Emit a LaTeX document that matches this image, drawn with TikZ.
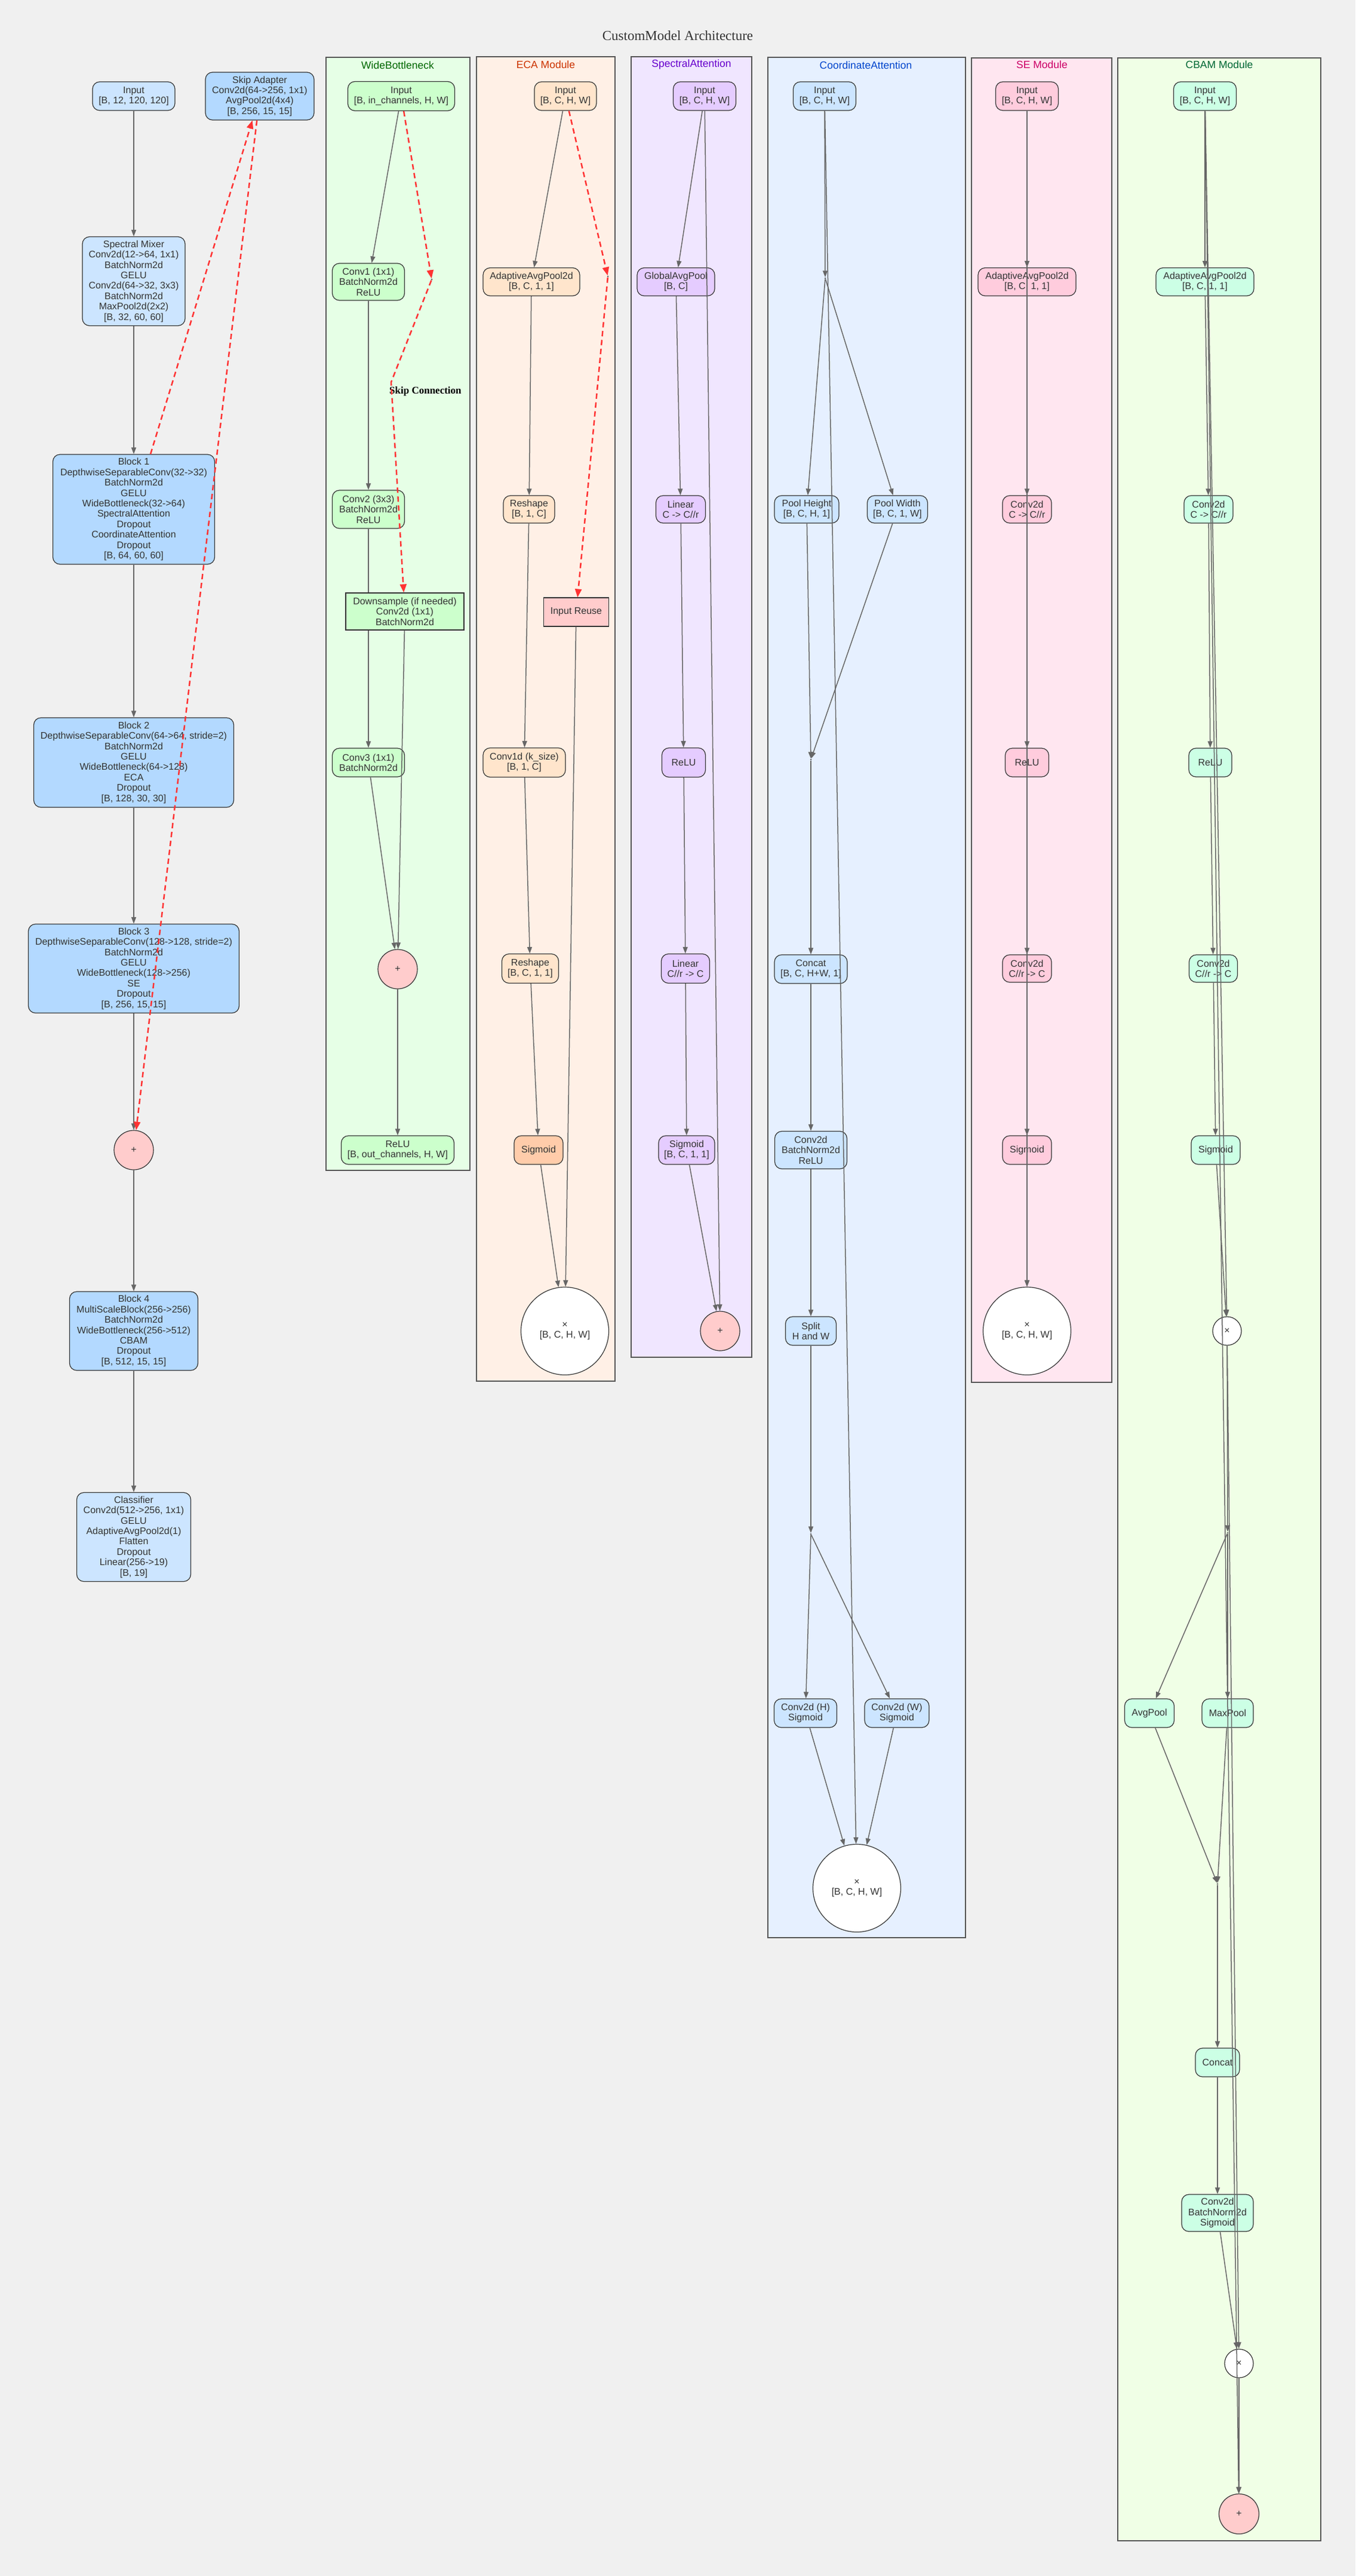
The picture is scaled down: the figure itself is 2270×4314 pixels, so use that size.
\documentclass[tikz,border=0pt]{standalone}
\usepackage{fontspec}
\setmainfont{Liberation Sans}
\newfontfamily\serifface{Liberation Serif}
\usepackage{tikz}
\usetikzlibrary{arrows.meta}

\definecolor{pagebg}{HTML}{F0F0F0}
\definecolor{ink}{HTML}{333333}
\definecolor{edgegray}{HTML}{666666}
\definecolor{frame}{HTML}{555555}
\definecolor{skipred}{HTML}{FF3333}
\definecolor{mainlight}{HTML}{CCE5FF}
\definecolor{maindark}{HTML}{B3D9FF}
\definecolor{addpink}{HTML}{FFCCCC}
\definecolor{wbbg}{HTML}{E6FFE6}
\definecolor{wbfill}{HTML}{CCFFCC}
\definecolor{wbtext}{HTML}{006600}
\definecolor{ecabg}{HTML}{FFF0E6}
\definecolor{ecafill}{HTML}{FFE5CC}
\definecolor{ecapeach}{HTML}{FFCCAA}
\definecolor{ecatext}{HTML}{CC3300}
\definecolor{sabg}{HTML}{F0E6FF}
\definecolor{safill}{HTML}{E5CCFF}
\definecolor{satext}{HTML}{6600CC}
\definecolor{cabg}{HTML}{E6F0FF}
\definecolor{cafill}{HTML}{CCE5FF}
\definecolor{catext}{HTML}{0044CC}
\definecolor{sebg}{HTML}{FFE6F0}
\definecolor{sefill}{HTML}{FFCCDD}
\definecolor{setext}{HTML}{CC0066}
\definecolor{cbbg}{HTML}{F0FFE6}
\definecolor{cbfill}{HTML}{CCFFE5}
\definecolor{cbtext}{HTML}{006633}

\newcommand{\boxfont}{\fontsize{16pt}{17.4pt}\selectfont}

\pgfdeclarelayer{back}
\pgfdeclarelayer{under}
\pgfsetlayers{back,under,main}

\tikzset{
  >={Triangle[length=11pt,width=8pt]},
  sz/.style 2 args={minimum width=#1, minimum height=#2},
  box/.style={draw=ink, line width=1.2pt, rounded corners=12pt, align=center, font=\boxfont, text=ink, inner sep=1pt},
  mainlt/.style={box, fill=mainlight},
  maindk/.style={box, fill=maindark},
  wbbox/.style={box, fill=wbfill},
  ecabox/.style={box, fill=ecafill},
  sabox/.style={box, fill=safill},
  cabox/.style={box, fill=cafill},
  sebox/.style={box, fill=sefill},
  cbbox/.style={box, fill=cbfill},
  opnode/.style={circle, draw=ink, line width=1.2pt, fill=white, align=center, font=\boxfont, text=ink, inner sep=0pt},
  addnode/.style={opnode, fill=addpink},
  joint/.style={circle, fill=edgegray, inner sep=0pt, minimum size=3pt},
  flow/.style={draw=edgegray, line width=1.5pt, ->},
  skip/.style={draw=skipred, line width=2.5pt, dash pattern=on 9pt off 6pt, >={Triangle[length=14pt,width=11pt]}, ->},
  cluster/.style={draw=frame, line width=1.6pt},
  ctitle/.style={font=\fontsize{17.5pt}{19pt}\selectfont, inner sep=0pt}
}

\begin{document}
\begin{tikzpicture}[x=1pt, y=-1pt]
\useasboundingbox (0,0) rectangle (2270,4314);
\begin{pgfonlayer}{back}
\fill[pagebg] (0,0) rectangle (2270,4314);
\draw[cluster, fill=wbbg] (546,96) rectangle (787,1960);
\draw[cluster, fill=ecabg] (798,95) rectangle (1030,2313);
\draw[cluster, fill=sabg] (1057,95) rectangle (1259,2273);
\draw[cluster, fill=cabg] (1286,96) rectangle (1617,3245);
\draw[cluster, fill=sebg] (1627,97) rectangle (1862,2315);
\draw[cluster, fill=cbbg] (1872,97) rectangle (2212,4255);
\end{pgfonlayer}

\node[font=\serifface\fontsize{23pt}{26pt}\selectfont, text=ink] (title) at (1135,60) {CustomModel Architecture};

\node[mainlt, sz={138}{48}] (mainin) at (224,161) {Input\\{}[B, 12, 120, 120]};
\node[maindk, sz={182}{80}] (skipad) at (435,161) {Skip Adapter\\Conv2d(64->256, 1x1)\\AvgPool2d(4x4)\\{}[B, 256, 15, 15]};
\node[mainlt, sz={172}{149}] (mixer) at (224,471) {Spectral Mixer\\Conv2d(12->64, 1x1)\\BatchNorm2d\\GELU\\Conv2d(64->32, 3x3)\\BatchNorm2d\\MaxPool2d(2x2)\\{}[B, 32, 60, 60]};
\node[maindk, sz={271}{184}] (blockone) at (224,853) {Block 1\\DepthwiseSeparableConv(32->32)\\BatchNorm2d\\GELU\\WideBottleneck(32->64)\\SpectralAttention\\Dropout\\CoordinateAttention\\Dropout\\{}[B, 64, 60, 60]};
\node[maindk, sz={335}{150}] (blocktwo) at (224,1277) {Block 2\\DepthwiseSeparableConv(64->64, stride=2)\\BatchNorm2d\\GELU\\WideBottleneck(64->128)\\ECA\\Dropout\\{}[B, 128, 30, 30]};
\node[maindk, sz={353}{149}] (blockthree) at (224,1622) {Block 3\\DepthwiseSeparableConv(128->128, stride=2)\\BatchNorm2d\\GELU\\WideBottleneck(128->256)\\SE\\Dropout\\{}[B, 256, 15, 15]};
\node[addnode, minimum size=66] (mainadd) at (224,1926) {+};
\node[maindk, sz={215}{132}] (blockfour) at (224,2229) {Block 4\\MultiScaleBlock(256->256)\\BatchNorm2d\\WideBottleneck(256->512)\\CBAM\\Dropout\\{}[B, 512, 15, 15]};
\node[mainlt, sz={191}{149}] (classifier) at (224,2574) {Classifier\\Conv2d(512->256, 1x1)\\GELU\\AdaptiveAvgPool2d(1)\\Flatten\\Dropout\\Linear(256->19)\\{}[B, 19]};

\node[ctitle, text=wbtext] (wbtitle) at (666,109) {WideBottleneck};
\node[wbbox, sz={179}{49}] (wbin) at (672,161) {Input\\{}[B, in\_channels, H, W]};
\node[wbbox, sz={121}{62}] (wbconva) at (617,472) {Conv1 (1x1)\\BatchNorm2d\\ReLU};
\node[joint] (wbfork) at (723,468) {};
\node[wbbox, sz={121}{64}] (wbconvb) at (617,853) {Conv2 (3x3)\\BatchNorm2d\\ReLU};
\node[wbbox, sz={121}{48}] (wbconvc) at (617,1277) {Conv3 (1x1)\\BatchNorm2d};
\begin{pgfonlayer}{under}
\draw[flow] (wbconvb) -- (wbconvc);
\end{pgfonlayer}
\node[wbbox, rounded corners=0pt, sz={198}{62}] (wbdown) at (678,1024) {Downsample (if needed)\\Conv2d (1x1)\\BatchNorm2d};
\node[addnode, minimum size=66] (wbadd) at (666,1623) {+};
\node[wbbox, sz={189}{48}] (wbout) at (666,1926) {ReLU\\{}[B, out\_channels, H, W]};
\coordinate (wbbend) at (655,640);
\node[anchor = west, font=\serifface\bfseries\fontsize{17pt}{19pt}\selectfont, inner sep=0pt] (skiplabel) at (652,655) {Skip Connection};

\node[ctitle, text=ecatext] (ecatitle) at (914,108) {ECA Module};
\node[ecabox, sz={104}{48}] (ecain) at (947,161) {Input\\{}[B, C, H, W]};
\node[ecabox, sz={162}{47}] (ecapool) at (890,472) {AdaptiveAvgPool2d\\{}[B, C, 1, 1]};
\node[joint] (ecafork) at (1018,463) {};
\node[ecabox, sz={86}{46}] (ecashapea) at (886,853) {Reshape\\{}[B, 1, C]};
\node[ecabox, fill=addpink, rounded corners=0pt, sz={109}{48}] (ecareuse) at (965,1025) {Input Reuse};
\node[ecabox, sz={138}{49}] (ecaconv) at (878,1277) {Conv1d (k\_size)\\{}[B, 1, C]};
\node[ecabox, sz={95}{49}] (ecashapeb) at (888,1622) {Reshape\\{}[B, C, 1, 1]};
\node[ecabox, fill=ecapeach, sz={82}{48}] (ecasig) at (902,1926) {Sigmoid};
\node[opnode, minimum size=147] (ecamul) at (946,2229) {×\\{}[B, C, H, W]};

\node[ctitle, text=satext] (satitle) at (1158,108) {SpectralAttention};
\node[sabox, sz={105}{48}] (sain) at (1180,161) {Input\\{}[B, C, H, W]};
\node[sabox, sz={130}{47}] (sapool) at (1132,472) {GlobalAvgPool\\{}[B, C]};
\node[sabox, sz={83}{46}] (salina) at (1140,853) {Linear\\C -> C//r};
\node[sabox, sz={73}{49}] (sarelu) at (1145,1277) {ReLU};
\node[sabox, sz={81}{49}] (salinb) at (1148,1622) {Linear\\C//r -> C};
\node[sabox, sz={94}{48}] (sasig) at (1150,1926) {Sigmoid\\{}[B, C, 1, 1]};
\node[addnode, minimum size=66] (saadd) at (1206,2229) {+};

\node[ctitle, text=catext] (catitle) at (1450,109) {CoordinateAttention};
\node[cabox, sz={105}{48}] (cain) at (1381,161) {Input\\{}[B, C, H, W]};
\node[joint] (caforka) at (1382,466) {};
\node[cabox, sz={108}{46}] (caheight) at (1351,853) {Pool Height\\{}[B, C, H, 1]};
\node[cabox, sz={101}{46}] (cawidth) at (1503,853) {Pool Width\\{}[B, C, 1, W]};
\node[joint] (cajoin) at (1358,1272) {};
\node[cabox, sz={122}{48}] (cacat) at (1358,1623) {Concat\\{}[B, C, H+W, 1]};
\node[cabox, sz={121}{63}] (caconv) at (1358,1926) {Conv2d\\BatchNorm2d\\ReLU};
\node[cabox, sz={85}{48}] (casplit) at (1358,2229) {Split\\H and W};
\node[joint] (caforkb) at (1358,2569) {};
\node[cabox, sz={105}{48}] (cah) at (1349,2869) {Conv2d (H)\\Sigmoid};
\node[cabox, sz={108}{48}] (caw) at (1502,2869) {Conv2d (W)\\Sigmoid};
\node[opnode, minimum size=147] (camul) at (1435,3162) {×\\{}[B, C, H, W]};

\node[ctitle, text=setext] (setitle) at (1745,108) {SE Module};
\node[sebox, sz={105}{48}] (sein) at (1720,161) {Input\\{}[B, C, H, W]};
\node[sebox, sz={164}{47}] (sepool) at (1720,472) {AdaptiveAvgPool2d\\{}[B, C, 1, 1]};
\node[sebox, sz={82}{46}] (seconva) at (1720,853) {Conv2d\\C -> C//r};
\node[sebox, sz={73}{48}] (serelu) at (1720,1277) {ReLU};
\node[sebox, sz={82}{46}] (seconvb) at (1720,1622) {Conv2d\\C//r -> C};
\node[sebox, sz={82}{48}] (sesig) at (1720,1926) {Sigmoid};
\node[opnode, minimum size=147] (semul) at (1720,2229) {×\\{}[B, C, H, W]};

\node[ctitle, text=cbtext] (cbtitle) at (2042,108) {CBAM Module};
\node[cbbox, sz={105}{48}] (cbin) at (2018,161) {Input\\{}[B, C, H, W]};
\node[cbbox, sz={164}{47}] (cbpool) at (2018,472) {AdaptiveAvgPool2d\\{}[B, C, 1, 1]};
\node[cbbox, sz={82}{46}] (cbconva) at (2024,853) {Conv2d\\C -> C//r};
\node[cbbox, sz={72}{48}] (cbrelu) at (2027,1277) {ReLU};
\node[cbbox, sz={81}{46}] (cbconvb) at (2032,1622) {Conv2d\\C//r -> C};
\node[cbbox, sz={82}{48}] (cbsig) at (2036,1926) {Sigmoid};
\node[opnode, minimum size=48] (cbmula) at (2055,2229) {×};
\node[joint] (cbfork) at (2056,2567) {};
\node[cbbox, sz={83}{48}] (cbavg) at (1925,2869) {AvgPool};
\node[cbbox, sz={86}{48}] (cbmax) at (2056,2869) {MaxPool};
\node[joint] (cbjoin) at (2039,3155) {};
\node[cbbox, sz={74}{48}] (cbcat) at (2039,3454) {Concat};
\node[cbbox, sz={120}{62}] (cbconvc) at (2039,3706) {Conv2d\\BatchNorm2d\\Sigmoid};
\node[opnode, minimum size=48] (cbmulb) at (2075,3958) {×};
\node[addnode, minimum size=67] (cbadd) at (2075,4210) {+};

\draw[flow] (mainin) -- (mixer);
\draw[flow] (mixer) -- (blockone);
\draw[flow] (blockone) -- (blocktwo);
\draw[flow] (blocktwo) -- (blockthree);
\draw[flow] (blockthree) -- (mainadd);
\draw[flow] (mainadd) -- (blockfour);
\draw[flow] (blockfour) -- (classifier);
\draw[skip] (blockone) -- (skipad);
\draw[skip] (skipad) -- (mainadd);

\draw[flow] (wbin) -- (wbconva);
\draw[flow] (wbconva) -- (wbconvb);
\draw[flow] (wbconvc) -- (wbadd);
\draw[flow] (wbdown) -- (wbadd);
\draw[flow] (wbadd) -- (wbout);
\draw[skip] (wbin) -- (wbfork);
\draw[skip] (wbfork) -- (wbbend) -- (wbdown);

\draw[flow] (ecain) -- (ecapool);
\draw[flow] (ecapool) -- (ecashapea);
\draw[flow] (ecashapea) -- (ecaconv);
\draw[flow] (ecaconv) -- (ecashapeb);
\draw[flow] (ecashapeb) -- (ecasig);
\draw[flow] (ecasig) -- (ecamul);
\draw[flow] (ecareuse) -- (ecamul);
\draw[skip] (ecain) -- (ecafork);
\draw[skip] (ecafork) -- (ecareuse);

\draw[flow] (sain) -- (sapool);
\draw[flow] (sapool) -- (salina);
\draw[flow] (salina) -- (sarelu);
\draw[flow] (sarelu) -- (salinb);
\draw[flow] (salinb) -- (sasig);
\draw[flow] (sasig) -- (saadd);
\draw[flow] (sain) -- (saadd);

\draw[flow] (cain) -- (caforka);
\draw[flow] (caforka) -- (caheight);
\draw[flow] (caforka) -- (cawidth);
\draw[flow] (caheight) -- (cajoin);
\draw[flow] (cawidth) -- (cajoin);
\draw[flow] (cajoin) -- (cacat);
\draw[flow] (cacat) -- (caconv);
\draw[flow] (caconv) -- (casplit);
\draw[flow] (casplit) -- (caforkb);
\draw[flow] (caforkb) -- (cah);
\draw[flow] (caforkb) -- (caw);
\draw[flow] (cah) -- (camul);
\draw[flow] (caw) -- (camul);
\draw[flow] (cain) -- (camul);

\draw[flow] (sein) -- (sepool);
\draw[flow] (sepool) -- (seconva);
\draw[flow] (seconva) -- (serelu);
\draw[flow] (serelu) -- (seconvb);
\draw[flow] (seconvb) -- (sesig);
\draw[flow] (sesig) -- (semul);
\draw[flow] (sein) -- (semul);

\draw[flow] (cbin) -- (cbpool);
\draw[flow] (cbin) -- (cbmula);
\draw[flow] (cbin) -- (cbadd);
\draw[flow] (cbpool) -- (cbconva);
\draw[flow] (cbconva) -- (cbrelu);
\draw[flow] (cbrelu) -- (cbconvb);
\draw[flow] (cbconvb) -- (cbsig);
\draw[flow] (cbsig) -- (cbmula);
\draw[flow] (cbmula) -- (cbfork);
\draw[flow] (cbmula) -- (cbmulb);
\draw[flow] (cbfork) -- (cbavg);
\draw[flow] (cbfork) -- (cbmax);
\draw[flow] (cbavg) -- (cbjoin);
\draw[flow] (cbmax) -- (cbjoin);
\draw[flow] (cbjoin) -- (cbcat);
\draw[flow] (cbcat) -- (cbconvc);
\draw[flow] (cbconvc) -- (cbmulb);
\draw[flow] (cbmulb) -- (cbadd);
\end{tikzpicture}
\end{document}
